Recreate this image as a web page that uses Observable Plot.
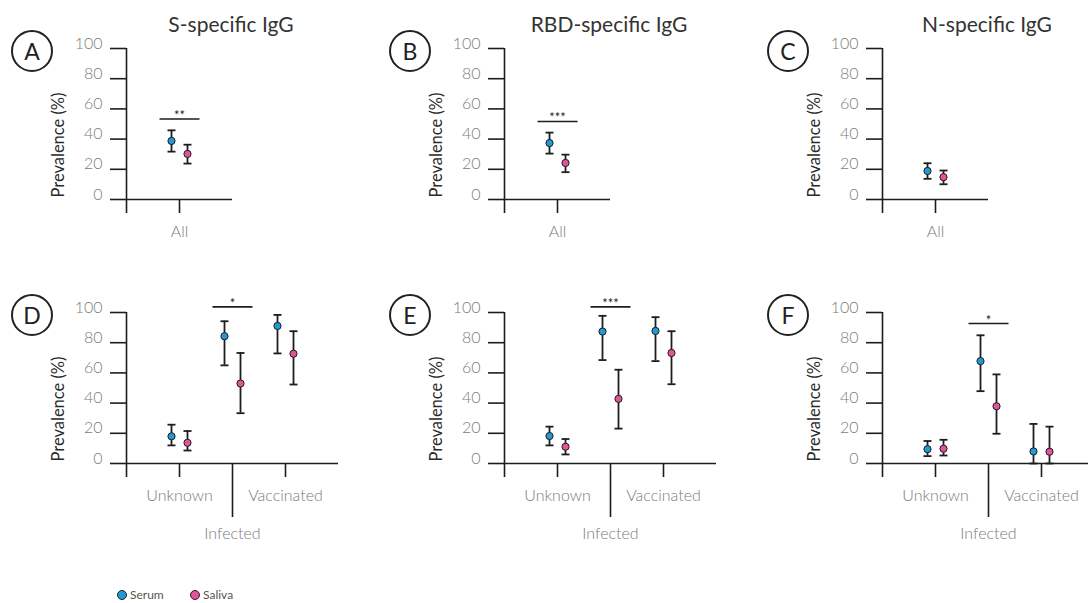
<!DOCTYPE html>
<html>
<head>
<meta charset="utf-8">
<script src="https://cdn.jsdelivr.net/npm/d3@7"></script>
<script src="https://cdn.jsdelivr.net/npm/@observablehq/plot@0.6"></script>
<style>
  html, body { margin: 0; padding: 0; background: #fff; }
  #fig { position: relative; width: 1088px; height: 603px; overflow: hidden; background: #fff; font-family: Lato, "Open Sans", sans-serif; }
  .panel { position: absolute; width: 378px; }
  .panel svg { max-width: none; }
  .title { position: absolute; transform: translate(-50%, -50%); font-size: 21px; color: #333; white-space: nowrap; line-height: 1; }
  .badge { position: absolute; width: 42px; height: 42px; box-sizing: border-box; border: 2px solid #222; border-radius: 50%;
           display: flex; align-items: center; justify-content: center; font-size: 23px; color: #222; line-height: 1; }
  .legend-item { position: absolute; top: 588px; display: flex; align-items: center; gap: 3px; font-size: 12px; color: #555; line-height: 1.1; white-space: nowrap; }
  .legend-item i { display: inline-block; width: 8px; height: 8px; border-radius: 50%; border: 1px solid #222; }
</style>
</head>
<body>
<div id="fig"></div>
<script>
// Panel letters and antigen titles
const letters = ["A", "B", "C", "D", "E", "F"];
const antigenTitles = ["S-specific IgG", "RBD-specific IgG", "N-specific IgG"];

// Categories on the x axis
const overallGroups = ["All"];
const statusGroups = ["Unknown", "Infected", "Vaccinated"];

// Overall prevalence (%), one value per antigen: S, RBD, N
const serumAll      = [38.8, 37.4, 18.9];
const serumAllLow   = [31.7, 30.4, 13.7];
const serumAllHigh  = [45.8, 44.3, 24.0];
const salivaAll     = [30.2, 24.2, 14.8];
const salivaAllLow  = [23.8, 18.1, 10.1];
const salivaAllHigh = [36.3, 29.7, 19.2];

// Prevalence (%) by status; rows S, RBD, N; columns Unknown, Infected, Vaccinated
const serumStatus      = [[18.0, 84.3, 91.1], [18.2, 87.4, 87.8], [9.5, 67.8, 8.0]];
const serumStatusLow   = [[12.0, 65.0, 72.9], [12.0, 68.5, 67.8], [4.9, 47.9, 0.0]];
const serumStatusHigh  = [[25.7, 94.2, 98.4], [24.4, 97.8, 96.9], [14.9, 84.9, 26.2]];
const salivaStatus     = [[13.7, 53.0, 72.7], [11.1, 42.8, 73.2], [9.8, 37.9, 7.8]];
const salivaStatusLow  = [[8.6, 33.3, 52.3], [6.0, 23.1, 52.5], [5.3, 19.7, 0.0]];
const salivaStatusHigh = [[21.5, 73.2, 87.6], [16.2, 62.1, 87.6], [15.7, 59.0, 24.4]];

// Serum vs saliva significance: stars and bracket height (%)
const sigAll = ["**", "***", null];
const sigAllHeight = [53.3, 51.7, null];
const sigStatus = ["*", "***", "*"];
const sigStatusHeight = [103.7, 103.7, 92.7];
const sigStatusGroup = "Infected";

const yTicks = [0, 20, 40, 60, 80, 100];

// Styling
const ink = "#1d1d1d";
const serumColor = "#1f9ad3";
const salivaColor = "#e4529b";
const tickGrey = "#7b7b7b";

// horizontal stroke symbol (caps and brackets); half-length equals r
const hline = {
  draw(context, size) {
    const r = Math.sqrt(size / Math.PI);
    context.moveTo(-r, 0);
    context.lineTo(r, 0);
  }
};

const unit = 53;          // px per category slot
const svgWidth = 378;
const left = 126;

function sampleMarks(rows, dx, color) {
  return [
    Plot.ruleX(rows, {x: "pos", y1: "low", y2: "high", dx, stroke: ink, strokeWidth: 1.8}),
    Plot.dot(rows, {x: "pos", y: "low", dx, symbol: hline, r: 4, fill: "none", stroke: ink, strokeWidth: 1.8}),
    Plot.dot(rows, {x: "pos", y: "high", dx, symbol: hline, r: 4, fill: "none", stroke: ink, strokeWidth: 1.8}),
    Plot.dot(rows, {x: "pos", y: "value", dx, r: 3.6, fill: color, stroke: ink, strokeWidth: 1})
  ];
}

function panel(groups, serum, serumLow, serumHigh, saliva, salivaLow, salivaHigh, stars, starHeight, starGroup) {
  const serumRows = groups.map((g, i) => ({pos: i + 1, value: serum[i], low: serumLow[i], high: serumHigh[i]}));
  const salivaRows = groups.map((g, i) => ({pos: i + 1, value: saliva[i], low: salivaLow[i], high: salivaHigh[i]}));
  const label = (d) => (d === 0 ? "" : groups[d - 1]);
  const shortTicks = [0, ...groups.map((g, i) => i + 1).filter((p) => p % 2 === 1)];
  const longTicks = groups.map((g, i) => i + 1).filter((p) => p % 2 === 0);
  const sig = stars ? [{pos: groups.indexOf(starGroup) + 1, y: starHeight, text: stars}] : [];
  const height = 280;
  return Plot.plot({
    width: svgWidth,
    height,
    marginLeft: left,
    marginRight: svgWidth - left - unit * (groups.length + 1),
    marginTop: 48,
    marginBottom: height - 48 - 151,
    x: {domain: [0, groups.length + 1], label: null},
    y: {domain: [0, 100], label: null},
    style: {background: "transparent", overflow: "visible", fontFamily: "Lato, 'Open Sans', sans-serif", fontSize: "16px"},
    marks: [
      Plot.axisY({ticks: yTicks, tickSize: 16, fill: "none", stroke: ink, strokeWidth: 1.6, label: null}),
      Plot.axisY({ticks: yTicks, tickSize: 0, tickPadding: 24, dy: -5, fill: tickGrey, fontWeight: 300, fontSize: 16, label: null}),
      Plot.axisX({ticks: shortTicks, tickSize: 14, tickPadding: 12, tickFormat: label, stroke: ink, strokeWidth: 1.6, fill: tickGrey, fontWeight: 300, fontSize: 16, label: null}),
      longTicks.length ? Plot.axisX({ticks: longTicks, tickSize: 54, tickPadding: 10, tickFormat: label, stroke: ink, strokeWidth: 1.6, fill: tickGrey, fontWeight: 300, fontSize: 16, label: null}) : null,
      Plot.ruleY([0], {stroke: ink, strokeWidth: 1.6}),
      Plot.ruleX([0], {y1: 0, y2: 100, stroke: ink, strokeWidth: 1.6}),
      Plot.text(["Prevalence (%)"], {frameAnchor: "bottom-left", rotate: -90, textAnchor: "start", dx: -63, dy: -2, fill: "#2a2a2a", fontSize: 16.5}),
      Plot.dot(sig, {x: "pos", y: "y", symbol: hline, r: 20, fill: "none", stroke: ink, strokeWidth: 1.6}),
      Plot.text(sig, {x: "pos", y: "y", text: "text", lineAnchor: "bottom", dy: 1, fontSize: 13, fill: ink}),
      ...sampleMarks(serumRows, -8, serumColor),
      ...sampleMarks(salivaRows, 8, salivaColor)
    ]
  });
}

const fig = document.getElementById("fig");
const axisX0 = [126, 504, 882];
const rowTop = [0, 264];

function place(el, x, y) {
  const wrap = document.createElement("div");
  wrap.className = "panel";
  wrap.style.left = x + "px";
  wrap.style.top = y + "px";
  wrap.appendChild(el);
  fig.appendChild(wrap);
}

antigenTitles.forEach((t, k) => {
  // Overall row
  place(panel(overallGroups, [serumAll[k]], [serumAllLow[k]], [serumAllHigh[k]],
              [salivaAll[k]], [salivaAllLow[k]], [salivaAllHigh[k]],
              sigAll[k], sigAllHeight[k], "All"), axisX0[k] - left, rowTop[0]);
  // By status row
  place(panel(statusGroups, serumStatus[k], serumStatusLow[k], serumStatusHigh[k],
              salivaStatus[k], salivaStatusLow[k], salivaStatusHigh[k],
              sigStatus[k], sigStatusHeight[k], sigStatusGroup), axisX0[k] - left, rowTop[1]);

  const title = document.createElement("div");
  title.className = "title";
  title.textContent = t;
  title.style.left = (axisX0[k] + 105) + "px";
  title.style.top = "23px";
  fig.appendChild(title);

  [0, 1].forEach((r) => {
    const b = document.createElement("div");
    b.className = "badge";
    b.textContent = letters[r * 3 + k];
    b.style.left = (axisX0[k] - 94 - 21) + "px";
    b.style.top = (rowTop[r] + 48 + 3 - 21) + "px";
    fig.appendChild(b);
  });
});

// Sample legend
[["Serum", serumColor, 117], ["Saliva", salivaColor, 190]].forEach(([name, color, x]) => {
  const s = document.createElement("div");
  s.className = "legend-item";
  s.style.left = x + "px";
  const sw = document.createElement("i");
  sw.style.background = color;
  s.appendChild(sw);
  s.appendChild(document.createTextNode(name));
  fig.appendChild(s);
});
</script>
</body>
</html>
